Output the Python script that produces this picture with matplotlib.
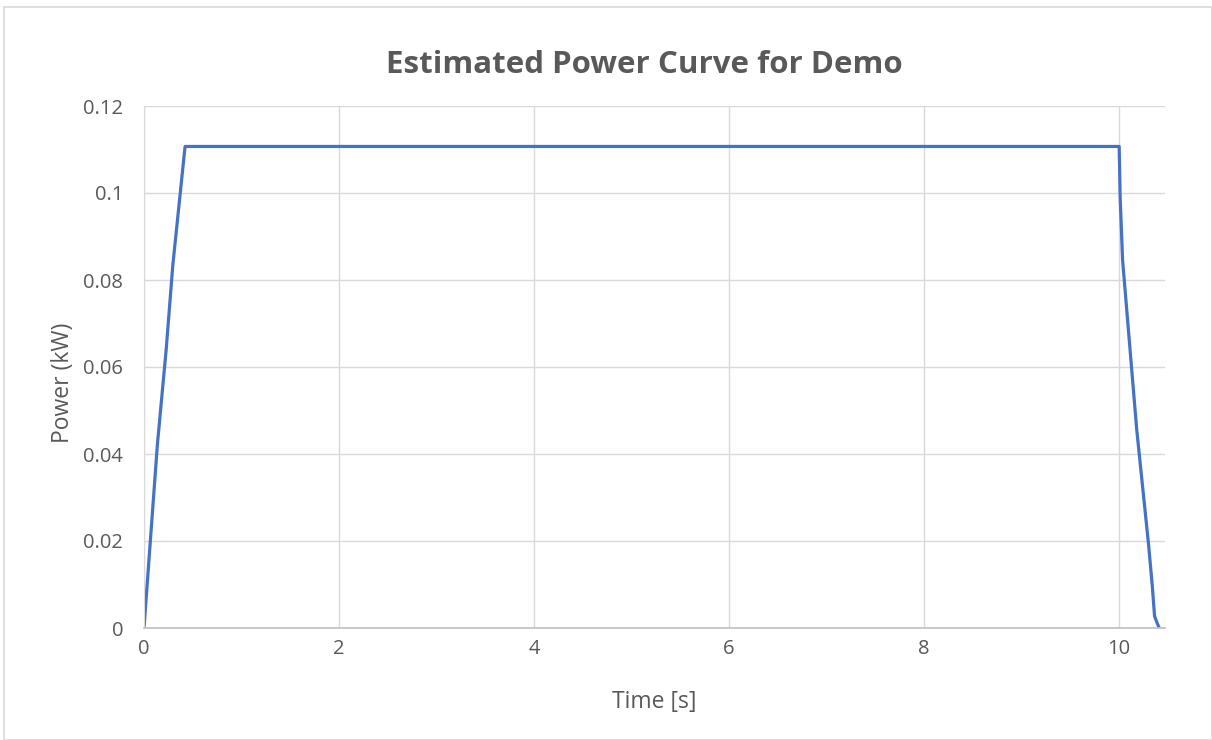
import matplotlib.pyplot as plt
from matplotlib.patches import Rectangle

plt.rcParams['font.family'] = ['Open Sans', 'DejaVu Sans']

# time [s] and power [kW]
time_s = [0.0, 0.137, 0.227, 0.295, 0.421,
          10.0, 10.01, 10.035, 10.18, 10.30, 10.34, 10.363, 10.41]
power_kw = [0.0, 0.0421, 0.0639, 0.0833, 0.1107,
            0.1107, 0.0992, 0.0846, 0.0456, 0.0195, 0.0096, 0.0027, 0.0]

x_ticks = [0, 2, 4, 6, 8, 10]
y_ticks = [0, 0.02, 0.04, 0.06, 0.08, 0.1, 0.12]
y_labels = ['0', '0.02', '0.04', '0.06', '0.08', '0.1', '0.12']

grey = '#595959'

fig = plt.figure(figsize=(12.12, 7.4), dpi=100)
ax = fig.add_axes([144 / 1212, 1 - 628 / 740, (1165 - 144) / 1212, (628 - 106) / 740])

ax.plot(time_s, power_kw, color='#4472C4', linewidth=2.3, solid_joinstyle='round')

ax.set_xlim(0, 10.47)
ax.set_ylim(0, 0.12)
ax.set_xticks(x_ticks)
ax.set_yticks(y_ticks)
ax.set_yticklabels(y_labels)
ax.tick_params(length=0, labelsize=14.5, labelcolor=grey)
ax.tick_params(axis='y', pad=15)
ax.tick_params(axis='x', pad=8)
ax.grid(True, color='#d9d9d9', linewidth=1)
ax.set_axisbelow(True)
for side in ['top', 'right']:
    ax.spines[side].set_visible(False)
ax.spines['left'].set_color('#d9d9d9')
ax.spines['bottom'].set_color('#bfbfbf')
ax.spines['bottom'].set_linewidth(1.2)

ax.set_title('Estimated Power Curve for Demo', fontsize=22.5, fontweight='bold',
             color=grey, pad=24, x=0.49)
ax.set_xlabel('Time [s]', fontsize=16.5, color=grey, labelpad=22)
ax.set_ylabel('Power (kW)', fontsize=16.5, color=grey, labelpad=6, y=0.47)

# chart area border
fig.patches.append(Rectangle((4 / 1212, 0), 1 - 4 / 1212, 1 - 7 / 740,
                             transform=fig.transFigure, fill=False,
                             edgecolor='#d9d9d9', linewidth=1.2))

fig.savefig('out.png', dpi=100)
